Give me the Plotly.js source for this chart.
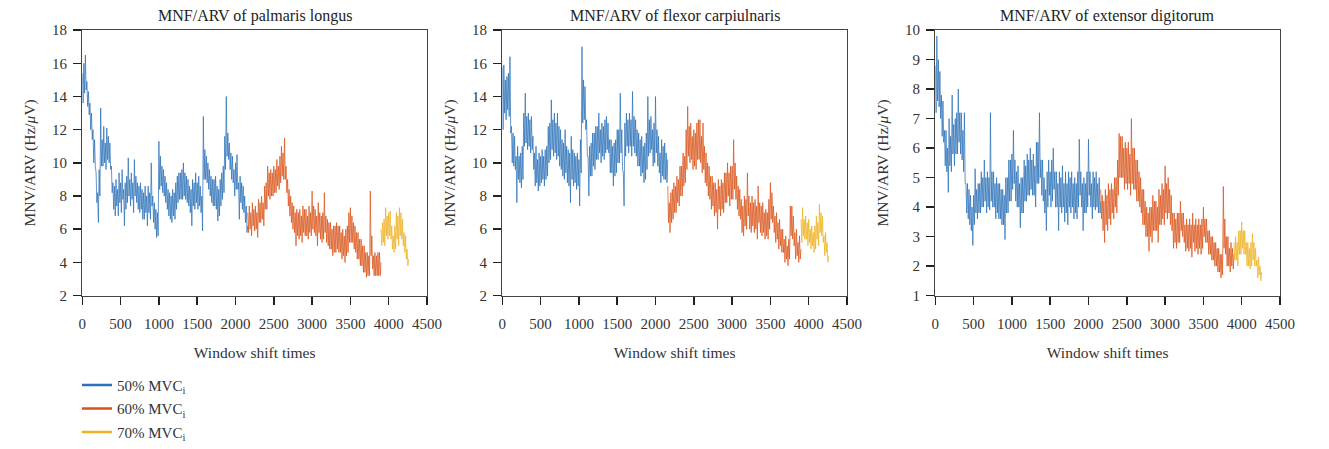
<!DOCTYPE html>
<html>
<head>
<meta charset="utf-8">
<script src="https://cdn.plot.ly/plotly-3.0.1.min.js"></script>
<style>html,body{margin:0;padding:0;background:#fff;}#chart{width:1329px;height:449px;}</style>
</head>
<body>
<div id="chart"></div>
<script>
// Window shift times are sampled every 10 windows
const STEP = 10;
const START_50 = 0, START_60 = 2160, START_70 = 3900;

const panelTitles = ["MNF/ARV of palmaris longus", "MNF/ARV of flexor carpiulnaris", "MNF/ARV of extensor digitorum"];
const seriesNames = ["50% MVC<sub>i</sub>", "60% MVC<sub>i</sub>", "70% MVC<sub>i</sub>"];
const seriesColors = ["#2B72B8", "#D95319", "#EDB120"];

// Palmaris longus
const pl50 = [15.4,13.6,16.0,14.2,16.5,14.4,14.9,13.4,14.3,12.9,13.6,12.0,13.0,11.4,12.0,10.0,11.4,9.8,9.4,7.6,
8.2,6.4,9.6,8.0,13.3,9.8,11.4,9.8,12.2,10.0,11.2,9.6,12.1,10.2,11.6,10.0,11.2,9.6,9.8,8.2,
8.8,7.2,8.6,6.8,9.0,7.4,8.4,6.8,9.4,7.6,8.8,7.0,9.6,7.8,8.4,6.2,8.8,7.2,9.2,7.6,
10.3,8.0,9.0,7.4,9.4,7.8,8.8,7.0,10.2,8.0,9.2,7.6,8.8,7.2,8.6,7.0,8.8,7.2,8.4,6.6,
8.2,6.6,8.6,7.0,8.0,6.2,8.6,7.0,8.2,6.6,10.0,7.4,8.0,6.4,7.6,6.0,7.2,5.5,7.0,5.6,
11.3,8.4,10.4,8.6,9.8,8.2,9.6,8.0,9.2,7.6,8.8,7.2,8.4,6.8,8.2,6.6,8.0,6.4,8.4,6.8,
8.2,6.6,8.8,7.2,9.2,7.6,9.4,7.8,9.4,7.8,9.6,7.8,10.0,8.0,9.4,7.8,9.2,7.6,9.0,7.4,
8.6,7.0,8.4,6.2,9.0,7.4,8.8,7.2,9.4,7.6,8.8,7.2,9.2,7.4,8.6,7.0,8.0,5.9,12.8,9.0,
10.8,9.0,10.4,8.8,10.0,8.4,9.6,8.0,9.2,7.6,9.0,7.4,9.0,7.4,9.2,7.2,8.6,6.5,8.4,6.8,
9.0,7.4,9.4,7.8,9.8,8.2,11.6,9.6,14.0,10.4,11.8,10.2,11.2,9.6,10.6,9.0,10.4,8.8,9.6,8.0,
10.0,8.4,10.5,8.4,8.8,6.6,9.2,7.6,8.8,7.2,8.6,7.0,8.0,6.4,7.4,5.8,6.2];
const pl60 = [7.0,5.8,7.4,6.0,7.0,5.6,7.6,6.2,7.2,5.9,7.4,6.0,7.0,5.5,7.8,6.4,7.6,6.4,8.0,6.6,
7.6,6.2,8.6,7.2,8.8,7.2,9.8,8.0,9.4,7.8,9.6,8.0,9.4,8.0,9.8,8.2,9.6,8.2,10.2,8.6,
9.8,8.4,10.4,8.8,11.0,9.2,10.6,9.0,11.5,9.0,9.8,8.2,9.0,7.4,8.4,6.8,8.0,6.4,7.6,6.0,
7.4,5.8,7.0,5.0,7.2,5.6,7.0,5.4,7.2,5.6,6.8,5.2,7.4,5.8,7.2,5.6,7.2,5.6,6.8,5.4,
7.4,5.8,7.0,5.6,8.3,6.0,7.4,5.8,7.2,5.6,6.8,5.0,7.6,5.8,7.0,5.4,6.8,5.2,7.0,5.4,
8.2,5.8,6.8,5.2,6.6,5.0,6.4,4.8,6.4,4.8,6.0,4.4,6.2,4.6,6.2,4.6,6.4,4.8,6.2,4.6,
6.2,4.6,5.8,4.2,6.0,4.4,5.6,4.0,6.0,4.4,6.2,4.6,7.0,5.2,7.3,5.2,6.8,5.2,6.4,4.8,
6.2,4.6,5.8,4.2,5.8,4.2,5.4,3.8,5.4,3.8,5.0,3.4,5.0,3.4,4.6,3.1,4.6,3.2,4.4,3.2,
8.3,4.4,5.6,3.6,4.4,3.2,4.6,3.2,4.4,3.2,4.6,3.2,4.6,3.2,4.0];
const pl70 = [6.0,5.0,6.4,5.2,6.6,5.0,7.3,5.6,6.8,5.4,7.0,5.6,7.1,5.4,6.2,4.8,5.6,4.6,6.2,4.8,
7.0,5.4,6.8,5.0,7.3,5.6,7.0,5.4,6.6,5.0,5.8,4.6,5.6,4.2,4.8,3.8,4.2];

// Flexor carpiulnaris
const fc50 = [15.8,12.0,15.9,13.0,15.0,12.6,15.2,13.2,15.4,12.8,16.4,11.8,12.2,10.0,11.8,9.8,11.6,9.6,10.4,7.6,
11.0,9.0,10.4,8.8,10.6,8.5,11.0,9.0,13.0,11.0,14.2,11.2,12.8,10.8,13.0,11.0,12.6,10.6,12.8,10.8,
11.6,9.6,10.6,8.6,11.0,8.8,10.2,8.3,10.6,8.6,10.4,8.8,10.8,9.0,10.4,8.6,10.8,9.0,11.0,9.2,
12.2,10.0,12.4,10.2,13.8,10.8,12.6,10.4,13.0,10.6,12.4,10.2,13.0,10.4,12.2,9.8,12.0,9.6,11.4,9.2,
11.2,9.0,12.0,9.4,11.0,8.8,10.8,8.6,10.6,7.6,11.6,9.0,10.8,8.6,10.6,8.8,10.4,8.4,10.6,8.6,
10.2,7.4,11.4,9.4,17.0,12.4,15.0,12.6,14.6,12.0,12.6,10.4,10.4,8.0,11.0,9.2,11.2,9.2,11.8,9.8,
11.8,9.6,12.2,10.2,12.2,10.2,13.0,10.6,12.0,10.0,12.4,10.4,12.2,10.2,12.6,10.6,12.8,10.8,12.4,10.6,
11.4,9.4,11.4,9.4,11.0,8.6,11.2,9.2,11.4,9.4,12.0,10.0,12.0,10.0,14.2,10.6,12.0,9.6,9.4,7.4,
12.4,10.4,13.0,11.0,12.6,10.6,13.0,11.0,12.6,10.4,14.3,11.0,12.8,10.6,12.6,10.4,12.0,9.8,11.8,9.8,
11.4,9.2,11.6,9.4,11.0,8.8,11.2,9.0,11.8,9.6,14.0,10.4,12.6,10.6,12.8,10.8,12.0,9.8,12.4,10.0,
14.0,10.6,12.0,9.8,11.6,9.4,10.6,8.8,11.4,9.2,11.0,9.0,11.2,9.0,10.6,8.8,10.2];
const fc60 = [8.6,6.4,7.6,5.8,8.2,6.4,8.4,6.6,8.8,7.0,8.6,7.0,9.2,7.6,9.0,7.4,9.8,8.0,9.8,8.0,
10.6,8.6,10.4,8.8,12.0,9.6,13.4,10.4,12.2,10.0,12.4,10.2,11.6,9.6,12.0,9.8,11.8,9.6,12.4,10.2,
12.6,10.2,12.6,10.0,11.6,9.4,12.4,9.6,11.0,8.8,10.6,8.6,10.0,8.0,9.8,7.8,9.2,7.2,9.2,7.4,
8.8,6.8,8.8,7.0,8.4,6.0,9.0,7.2,8.6,6.8,9.0,7.2,8.8,7.0,9.4,7.6,9.4,7.6,10.0,8.0,
9.4,7.4,9.8,7.8,9.8,7.8,11.4,8.4,10.0,7.8,9.2,7.2,8.6,6.8,8.4,6.6,7.8,5.8,7.4,5.6,
8.0,6.2,7.8,6.0,9.4,6.8,8.0,6.0,7.6,5.8,8.0,6.2,7.6,5.8,7.8,6.0,7.4,5.4,8.6,6.4,
7.6,5.8,7.4,5.6,7.6,5.8,7.0,5.4,7.2,5.6,7.0,5.4,7.8,6.0,8.8,6.6,8.2,6.4,7.4,5.8,
6.8,5.2,7.0,5.4,6.4,4.8,6.6,5.0,6.0,4.6,6.0,4.6,5.4,4.0,5.6,4.2,5.0,3.8,5.4,4.2,
7.4,5.6,7.4,5.4,6.8,5.0,5.8,4.2,6.0,4.4,5.2,4.0,5.6,4.2,4.8];
const fc70 = [6.6,5.2,7.3,5.6,6.6,5.4,6.8,5.4,6.4,5.0,6.6,5.2,6.0,4.8,6.2,5.0,5.8,4.6,6.2,4.8,
6.8,5.4,6.4,5.0,7.5,5.8,7.0,5.6,6.8,5.2,5.6,4.4,5.8,4.6,5.2,4.0,4.4];

// Extensor digitorum
const ed50 = [8.8,7.2,9.8,7.6,9.0,7.4,8.6,7.0,7.8,6.4,7.6,6.2,6.6,5.4,6.6,5.2,6.0,4.5,7.0,5.4,
6.4,5.2,7.8,5.8,6.8,5.4,7.0,5.8,7.2,5.8,8.0,6.2,7.2,5.8,7.2,5.6,6.6,5.2,7.2,4.8,
4.8,3.8,4.8,3.6,4.6,3.4,4.4,3.2,4.0,2.7,4.4,3.4,5.3,3.8,4.6,3.6,4.8,3.8,4.8,3.8,
5.2,4.0,5.0,4.0,5.6,4.2,5.0,3.8,5.2,4.0,5.0,3.9,7.2,4.2,5.2,4.0,5.2,4.0,4.8,3.6,
5.0,3.8,4.8,3.6,4.8,3.6,4.6,3.4,4.6,3.4,4.4,2.9,5.0,3.8,5.0,3.8,5.6,4.2,5.6,4.2,
5.8,4.6,6.6,4.8,5.6,4.2,5.2,4.0,5.4,4.0,4.8,3.3,5.0,3.8,5.0,3.8,5.6,4.2,5.4,4.2,
5.8,4.4,5.6,4.4,6.0,4.6,5.6,4.4,5.8,4.4,5.4,4.0,6.2,4.8,6.2,4.8,7.2,5.0,5.6,4.4,
5.6,4.2,5.0,3.8,4.6,3.2,5.2,4.0,5.6,4.4,5.2,4.0,5.6,4.2,6.0,4.6,5.2,4.0,5.2,4.0,
4.8,3.2,5.2,4.0,5.0,3.8,5.4,4.0,4.8,3.5,5.2,3.8,4.8,3.4,5.2,4.0,5.0,3.8,5.2,4.0,
4.8,3.6,5.0,3.8,4.8,3.6,5.2,4.0,6.3,4.4,5.2,4.0,4.8,3.2,5.0,3.8,4.8,3.8,5.2,4.0,
6.3,4.4,5.2,4.0,4.8,3.6,5.2,4.0,5.0,3.9,5.2,4.0,4.8,3.8,5.0,3.8,4.2];
const ed60 = [4.6,3.6,4.4,3.2,4.2,2.8,4.6,3.4,4.4,3.2,4.8,3.6,4.6,3.4,4.8,3.8,4.6,3.6,5.0,4.0,
5.0,3.8,5.6,4.4,6.5,5.0,6.4,5.0,6.4,5.0,6.0,4.6,6.2,4.8,6.0,4.6,6.2,4.8,5.8,4.4,
7.0,4.8,6.0,4.6,6.0,4.6,5.6,4.2,5.6,4.2,5.2,4.0,5.0,3.8,4.6,3.4,4.6,3.4,4.2,3.0,
4.0,3.0,3.8,2.5,4.0,3.0,4.0,2.8,4.4,3.2,4.2,3.2,4.2,3.2,4.0,2.8,4.6,3.4,4.4,3.4,
4.8,3.6,4.6,3.4,5.4,3.8,4.8,3.6,5.0,3.8,4.6,3.4,4.4,3.2,3.8,2.6,3.8,2.8,3.6,2.6,
3.8,2.8,3.8,2.8,4.2,3.2,3.8,3.0,3.8,2.8,3.4,2.5,3.6,2.6,3.4,2.5,3.6,2.6,3.4,2.3,
3.8,2.8,3.4,2.5,3.6,2.6,3.4,2.4,3.6,2.6,3.4,2.4,3.6,2.6,4.0,3.0,3.6,2.8,3.6,2.8,
3.2,2.4,3.2,2.4,3.0,2.2,3.0,2.2,2.8,2.0,2.8,2.0,2.6,1.8,2.6,1.8,2.4,1.6,2.4,1.7,
4.7,2.6,3.6,2.4,3.0,2.0,3.0,2.0,2.6,1.8,2.8,2.0,2.6,1.9,2.4];
const ed70 = [2.8,2.2,3.0,2.2,2.8,2.0,3.2,2.4,3.2,2.4,3.5,2.6,3.2,2.4,3.2,2.4,2.8,2.0,2.8,2.0,
2.6,1.9,2.8,2.0,3.1,2.2,2.8,2.0,2.6,2.0,2.2,1.6,2.3,1.7,2.0,1.5,1.8];

const xTickVals = [0,500,1000,1500,2000,2500,3000,3500,4000,4500];
const yRanges = [[2,18],[2,18],[1,10]];
const yDticks = [2,2,1];

const panels = [[pl50,pl60,pl70],[fc50,fc60,fc70],[ed50,ed60,ed70]];
const starts = [START_50, START_60, START_70];

function xs(start, n){ const a=[]; for(let i=0;i<n;i++) a.push(start+i*STEP); return a; }

const FONT = "Liberation Serif, Times New Roman, serif";
const TXT = "#333";
const traces = [];
panels.forEach((series, p) => {
  const sfx = p === 0 ? "" : String(p+1);
  series.forEach((vals, s) => {
    traces.push({
      type: "scatter", mode: "lines",
      x: xs(starts[s], vals.length), y: vals,
      xaxis: "x"+sfx, yaxis: "y"+sfx,
      line: {color: seriesColors[s], width: 0.85, simplify: false},
      opacity: 0.88,
      showlegend: false, hoverinfo: "skip"
    });
  });
});
// legend entries
seriesNames.forEach((nm, s) => {
  traces.push({
    type: "scatter", mode: "lines", x: [null], y: [null],
    name: nm, legendgroup: "g"+s,
    line: {color: seriesColors[s], width: 2.5},
    showlegend: true
  });
});

const W = 1329, H = 449;
const xPix = [[82.3,427],[502.3,847],[935.3,1280]];
const yTop = 31, yBot = 303.7;
const yDom = [1 - yBot/H, 1 - yTop/H];

const layout = {
  width: W, height: H,
  margin: {l:0, r:0, t:0, b:0},
  paper_bgcolor: "#fff", plot_bgcolor: "#fff",
  font: {family: FONT, size: 15, color: TXT},
  showlegend: true,
  legend: {x: 77/W, xanchor: "left", y: 1 - 379/H, yanchor: "top",
           font: {family: FONT, size: 15, color: TXT}, tracegroupgap: 1,
           bgcolor: "rgba(0,0,0,0)", itemwidth: 30},
  annotations: []
};

xPix.forEach((px, p) => {
  const sfx = p === 0 ? "" : String(p+1);
  layout["xaxis"+sfx] = {
    domain: [px[0]/W, px[1]/W], anchor: "y"+sfx,
    range: [0, 4500], tickvals: xTickVals, showgrid: false, zeroline: false,
    showline: true, mirror: true, linecolor: "#444", linewidth: 1.2,
    ticks: "outside", ticklen: 8, tickwidth: 1.5, tickcolor: "#222",
    ticklabelstandoff: 6,
    tickfont: {family: FONT, size: 15, color: TXT},
    title: {text: "Window shift times", font: {family: FONT, size: 15.5, color: TXT}, standoff: 16},
    automargin: false
  };
  layout["yaxis"+sfx] = {
    domain: yDom, anchor: "x"+sfx,
    range: yRanges[p], dtick: yDticks[p], showgrid: false, zeroline: false,
    showline: true, mirror: true, linecolor: "#444", linewidth: 1.2,
    ticks: "outside", ticklen: 8, tickwidth: 1.5, tickcolor: "#222",
    ticklabelstandoff: 3,
    tickfont: {family: FONT, size: 15, color: TXT},
    title: {text: "MNV/ARV (Hz/<i>μ</i>V)", font: {family: FONT, size: 15.5, color: TXT}, standoff: 12},
    automargin: false
  };
  layout.annotations.push({
    text: panelTitles[p], xref: "paper", yref: "paper",
    x: (px[0]+px[1])/2/W, y: 1 - 16/H, xanchor: "center", yanchor: "middle",
    showarrow: false, font: {family: FONT, size: 16, color: "#222"}
  });
});

Plotly.newPlot("chart", traces, layout, {staticPlot: true, displayModeBar: false});
</script>
</body>
</html>
